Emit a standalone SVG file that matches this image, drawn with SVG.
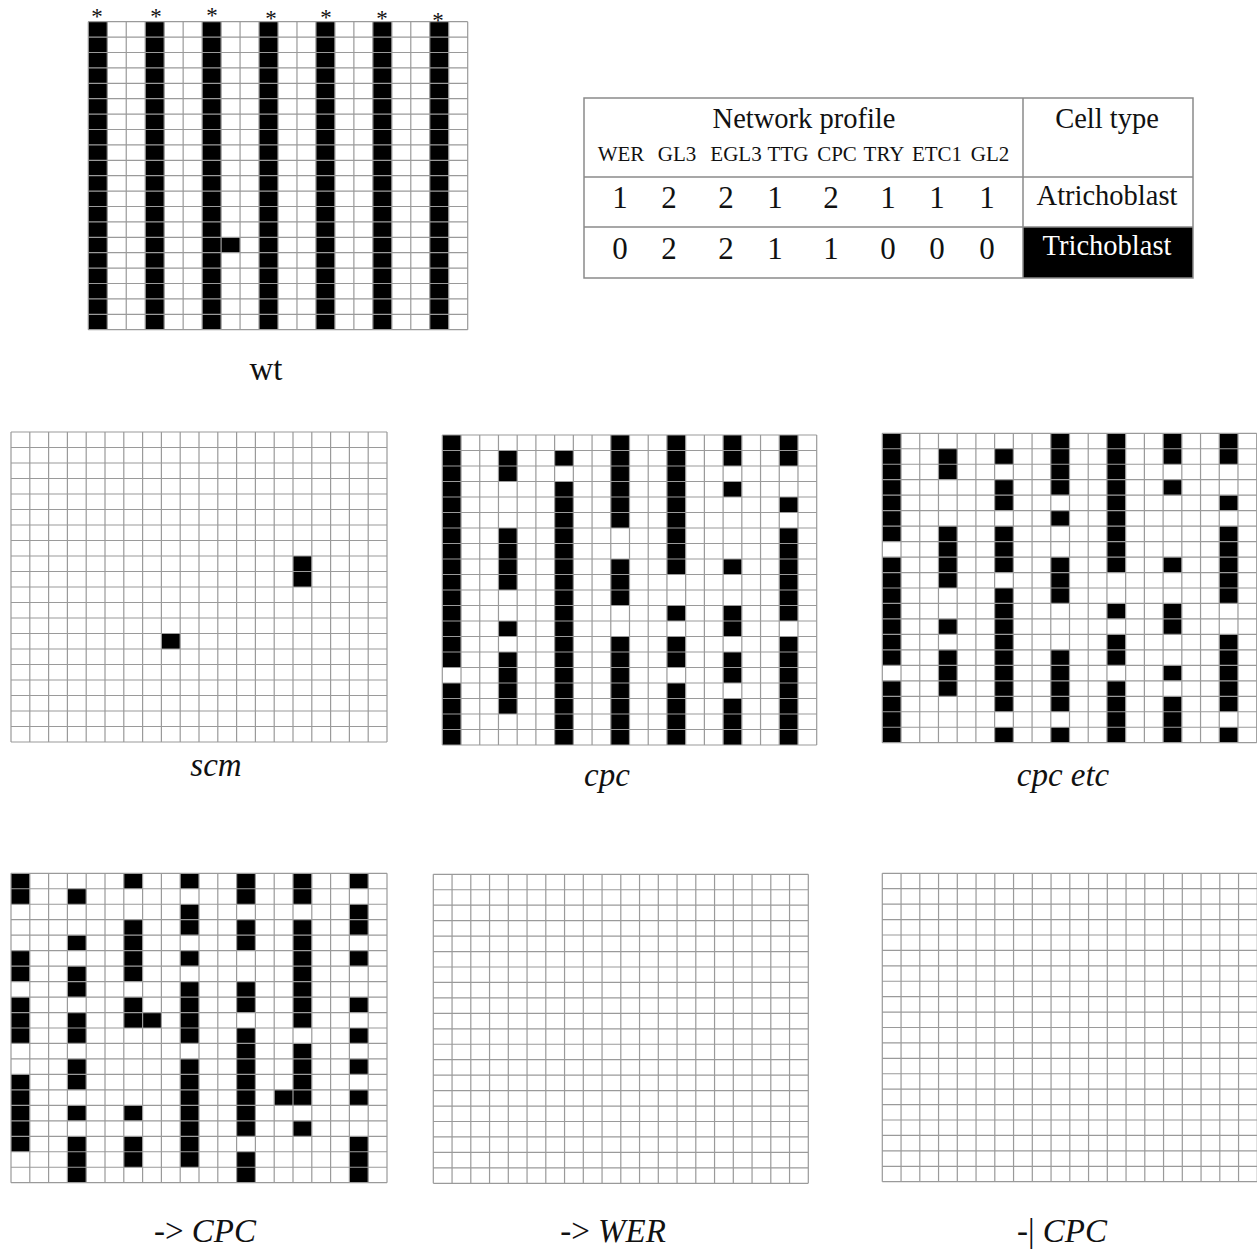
<svg xmlns="http://www.w3.org/2000/svg" xmlns:xlink="http://www.w3.org/1999/xlink" width="1257" height="1249" viewBox="0 0 1257 1249">
<style>
.b{fill:#000}
.bg{fill:#fff}
.tl{fill:none;stroke:#8a8a8a;stroke-width:1.5}
text{font-family:"Liberation Serif","Times New Roman",serif;fill:#111}
.lab{font-size:33px;text-anchor:middle}
.it{font-style:italic}
.hd{font-size:28.5px;text-anchor:middle}
.gn{font-size:21px;text-anchor:middle}
.dg{font-size:31px;text-anchor:middle}
.ast{font-size:23px;text-anchor:middle}
</style>
<defs>
<path id="grid" fill="none" stroke="#9a9a9a" stroke-width="1.2" vector-effect="non-scaling-stroke" d="M0 0V20M1 0V20M2 0V20M3 0V20M4 0V20M5 0V20M6 0V20M7 0V20M8 0V20M9 0V20M10 0V20M11 0V20M12 0V20M13 0V20M14 0V20M15 0V20M16 0V20M17 0V20M18 0V20M19 0V20M20 0V20M0 0H20M0 1H20M0 2H20M0 3H20M0 4H20M0 5H20M0 6H20M0 7H20M0 8H20M0 9H20M0 10H20M0 11H20M0 12H20M0 13H20M0 14H20M0 15H20M0 16H20M0 17H20M0 18H20M0 19H20M0 20H20"/>
</defs>
<rect width="1257" height="1249" fill="#fff"/>

<g id="panel-wt">
<g transform="translate(88.3 21.7) scale(18.97 15.4)">
<rect class="bg" width="20" height="20"/>
<rect class="b" x="0" y="0" width="1" height="20"/>
<rect class="b" x="3" y="0" width="1" height="20"/>
<rect class="b" x="6" y="0" width="1" height="20"/>
<rect class="b" x="9" y="0" width="1" height="20"/>
<rect class="b" x="12" y="0" width="1" height="20"/>
<rect class="b" x="15" y="0" width="1" height="20"/>
<rect class="b" x="18" y="0" width="1" height="20"/>
<rect class="b" x="7" y="14" width="1" height="1"/>
<use xlink:href="#grid" href="#grid"/>
</g>
<text class="ast" x="97" y="24">*</text>
<text class="ast" x="156" y="24">*</text>
<text class="ast" x="212" y="23">*</text>
<text class="ast" x="271" y="26">*</text>
<text class="ast" x="326" y="25">*</text>
<text class="ast" x="382" y="26">*</text>
<text class="ast" x="438" y="28">*</text>
<text class="lab" x="266" y="380">wt</text>
</g>

<g id="table">
<rect x="1023" y="227" width="170" height="51" fill="#000"/>
<rect class="tl" x="584" y="98" width="609" height="180"/>
<path class="tl" d="M1023 98V278M584 177H1193M584 227H1193"/>
<text class="hd" x="804" y="128">Network profile</text>
<text class="hd" x="1107" y="128">Cell type</text>
<text class="gn" x="621" y="161">WER</text>
<text class="gn" x="677" y="161">GL3</text>
<text class="gn" x="736" y="161">EGL3</text>
<text class="gn" x="788" y="161">TTG</text>
<text class="gn" x="837" y="161">CPC</text>
<text class="gn" x="884" y="161">TRY</text>
<text class="gn" x="937" y="161">ETC1</text>
<text class="gn" x="990" y="161">GL2</text>
<text class="dg" x="620" y="208">1</text>
<text class="dg" x="669" y="208">2</text>
<text class="dg" x="726" y="208">2</text>
<text class="dg" x="775" y="208">1</text>
<text class="dg" x="831" y="208">2</text>
<text class="dg" x="888" y="208">1</text>
<text class="dg" x="937" y="208">1</text>
<text class="dg" x="987" y="208">1</text>
<text class="dg" x="620" y="259">0</text>
<text class="dg" x="669" y="259">2</text>
<text class="dg" x="726" y="259">2</text>
<text class="dg" x="775" y="259">1</text>
<text class="dg" x="831" y="259">1</text>
<text class="dg" x="888" y="259">0</text>
<text class="dg" x="937" y="259">0</text>
<text class="dg" x="987" y="259">0</text>
<text class="hd" x="1107" y="205">Atrichoblast</text>
<text class="hd" x="1107" y="255" style="fill:#fff">Trichoblast</text>
</g>

<g id="panel-scm">
<g transform="translate(11 432) scale(18.8 15.5)">
<rect class="bg" width="20" height="20"/>
<rect class="b" x="15" y="8" width="1" height="2"/>
<rect class="b" x="8" y="13" width="1" height="1"/>
<use xlink:href="#grid" href="#grid"/>
</g>
<text class="lab it" x="216" y="776">scm</text>
</g>

<g id="panel-cpc">
<g transform="translate(442.3 435) scale(18.72 15.5)">
<rect class="bg" width="20" height="20"/>
<rect class="b" x="0" y="0" width="1" height="15"/>
<rect class="b" x="0" y="16" width="1" height="4"/>
<rect class="b" x="3" y="1" width="1" height="2"/>
<rect class="b" x="3" y="6" width="1" height="4"/>
<rect class="b" x="3" y="12" width="1" height="1"/>
<rect class="b" x="3" y="14" width="1" height="4"/>
<rect class="b" x="6" y="1" width="1" height="1"/>
<rect class="b" x="6" y="3" width="1" height="17"/>
<rect class="b" x="9" y="0" width="1" height="6"/>
<rect class="b" x="9" y="8" width="1" height="3"/>
<rect class="b" x="9" y="13" width="1" height="7"/>
<rect class="b" x="12" y="0" width="1" height="9"/>
<rect class="b" x="12" y="11" width="1" height="1"/>
<rect class="b" x="12" y="13" width="1" height="2"/>
<rect class="b" x="12" y="16" width="1" height="4"/>
<rect class="b" x="15" y="0" width="1" height="2"/>
<rect class="b" x="15" y="3" width="1" height="1"/>
<rect class="b" x="15" y="8" width="1" height="1"/>
<rect class="b" x="15" y="11" width="1" height="2"/>
<rect class="b" x="15" y="14" width="1" height="2"/>
<rect class="b" x="15" y="17" width="1" height="3"/>
<rect class="b" x="18" y="0" width="1" height="2"/>
<rect class="b" x="18" y="4" width="1" height="1"/>
<rect class="b" x="18" y="6" width="1" height="6"/>
<rect class="b" x="18" y="13" width="1" height="7"/>
<use xlink:href="#grid" href="#grid"/>
</g>
<text class="lab it" x="607" y="786">cpc</text>
</g>

<g id="panel-cpc-etc">
<g transform="translate(882.3 433.3) scale(18.72 15.47)">
<rect class="bg" width="20" height="20"/>
<rect class="b" x="0" y="0" width="1" height="7"/>
<rect class="b" x="0" y="8" width="1" height="7"/>
<rect class="b" x="0" y="16" width="1" height="4"/>
<rect class="b" x="3" y="1" width="1" height="2"/>
<rect class="b" x="3" y="6" width="1" height="4"/>
<rect class="b" x="3" y="12" width="1" height="1"/>
<rect class="b" x="3" y="14" width="1" height="3"/>
<rect class="b" x="6" y="1" width="1" height="1"/>
<rect class="b" x="6" y="3" width="1" height="2"/>
<rect class="b" x="6" y="6" width="1" height="3"/>
<rect class="b" x="6" y="10" width="1" height="8"/>
<rect class="b" x="6" y="19" width="1" height="1"/>
<rect class="b" x="9" y="0" width="1" height="4"/>
<rect class="b" x="9" y="5" width="1" height="1"/>
<rect class="b" x="9" y="8" width="1" height="3"/>
<rect class="b" x="9" y="14" width="1" height="4"/>
<rect class="b" x="9" y="19" width="1" height="1"/>
<rect class="b" x="12" y="0" width="1" height="9"/>
<rect class="b" x="12" y="11" width="1" height="1"/>
<rect class="b" x="12" y="13" width="1" height="2"/>
<rect class="b" x="12" y="16" width="1" height="4"/>
<rect class="b" x="15" y="0" width="1" height="2"/>
<rect class="b" x="15" y="3" width="1" height="1"/>
<rect class="b" x="15" y="8" width="1" height="1"/>
<rect class="b" x="15" y="11" width="1" height="2"/>
<rect class="b" x="15" y="15" width="1" height="1"/>
<rect class="b" x="15" y="17" width="1" height="3"/>
<rect class="b" x="18" y="0" width="1" height="2"/>
<rect class="b" x="18" y="4" width="1" height="1"/>
<rect class="b" x="18" y="6" width="1" height="5"/>
<rect class="b" x="18" y="13" width="1" height="5"/>
<rect class="b" x="18" y="19" width="1" height="1"/>
<use xlink:href="#grid" href="#grid"/>
</g>
<text class="lab it" x="1063" y="786">cpc etc</text>
</g>

<g id="panel-to-cpc">
<g transform="translate(11 873.3) scale(18.8 15.47)">
<rect class="bg" width="20" height="20"/>
<rect class="b" x="0" y="0" width="1" height="2"/>
<rect class="b" x="0" y="5" width="1" height="2"/>
<rect class="b" x="0" y="8" width="1" height="3"/>
<rect class="b" x="0" y="13" width="1" height="5"/>
<rect class="b" x="3" y="1" width="1" height="1"/>
<rect class="b" x="3" y="4" width="1" height="1"/>
<rect class="b" x="3" y="6" width="1" height="2"/>
<rect class="b" x="3" y="9" width="1" height="2"/>
<rect class="b" x="3" y="12" width="1" height="2"/>
<rect class="b" x="3" y="15" width="1" height="1"/>
<rect class="b" x="3" y="17" width="1" height="3"/>
<rect class="b" x="6" y="0" width="1" height="1"/>
<rect class="b" x="6" y="3" width="1" height="4"/>
<rect class="b" x="6" y="8" width="1" height="2"/>
<rect class="b" x="7" y="9" width="1" height="1"/>
<rect class="b" x="6" y="15" width="1" height="1"/>
<rect class="b" x="6" y="17" width="1" height="2"/>
<rect class="b" x="9" y="0" width="1" height="1"/>
<rect class="b" x="9" y="2" width="1" height="2"/>
<rect class="b" x="9" y="5" width="1" height="1"/>
<rect class="b" x="9" y="7" width="1" height="4"/>
<rect class="b" x="9" y="12" width="1" height="7"/>
<rect class="b" x="12" y="0" width="1" height="2"/>
<rect class="b" x="12" y="3" width="1" height="2"/>
<rect class="b" x="12" y="7" width="1" height="2"/>
<rect class="b" x="12" y="10" width="1" height="7"/>
<rect class="b" x="12" y="18" width="1" height="2"/>
<rect class="b" x="15" y="0" width="1" height="2"/>
<rect class="b" x="15" y="3" width="1" height="7"/>
<rect class="b" x="15" y="11" width="1" height="4"/>
<rect class="b" x="14" y="14" width="1" height="1"/>
<rect class="b" x="15" y="16" width="1" height="1"/>
<rect class="b" x="18" y="0" width="1" height="1"/>
<rect class="b" x="18" y="2" width="1" height="2"/>
<rect class="b" x="18" y="5" width="1" height="1"/>
<rect class="b" x="18" y="8" width="1" height="1"/>
<rect class="b" x="18" y="10" width="1" height="1"/>
<rect class="b" x="18" y="12" width="1" height="1"/>
<rect class="b" x="18" y="14" width="1" height="1"/>
<rect class="b" x="18" y="17" width="1" height="3"/>
<use xlink:href="#grid" href="#grid"/>
</g>
<text class="lab" x="205" y="1242">-&gt; <tspan class="it">CPC</tspan></text>
</g>

<g id="panel-to-wer">
<g transform="translate(433.3 874.3) scale(18.75 15.45)">
<rect class="bg" width="20" height="20"/>
<use xlink:href="#grid" href="#grid"/>
</g>
<text class="lab" x="613" y="1242">-&gt; <tspan class="it">WER</tspan></text>
</g>

<g id="panel-inh-cpc">
<g transform="translate(882.3 873.3) scale(18.75 15.42)">
<rect class="bg" width="20" height="20"/>
<use xlink:href="#grid" href="#grid"/>
</g>
<text class="lab" x="1062" y="1242">-| <tspan class="it">CPC</tspan></text>
</g>

<g id="connectors"/>
</svg>
